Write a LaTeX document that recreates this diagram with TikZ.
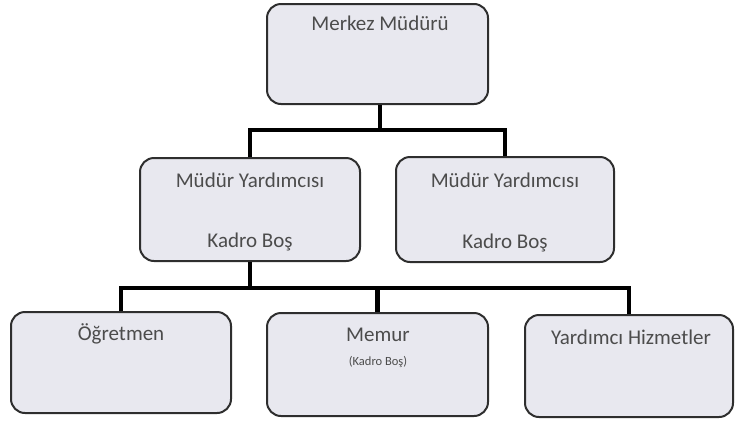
\documentclass[tikz,border=0pt]{standalone}
\usepackage{fontspec}
\setmainfont{Carlito}
\definecolor{boxfill}{HTML}{E8E8EF}
\definecolor{boxline}{HTML}{2E2E2E}
\definecolor{txt}{HTML}{4C4C4C}
\begin{document}
\begin{tikzpicture}[x=1pt,y=-1pt,
  orgbox/.style={draw=boxline, line width=2pt, fill=boxfill, rounded corners=14pt, inner sep=0pt},
  lbl/.style={text=txt, font=\fontsize{21}{24}\selectfont, inner sep=0pt},
  small/.style={text=txt, font=\fontsize{12.5}{14}\selectfont, inner sep=0pt},
  conn/.style={draw=black, line width=4.5pt}]
\useasboundingbox (0,0) rectangle (735,421);
% boxes
\node[orgbox, minimum width=221pt, minimum height=100pt] (top) at (377.5,54) {};
\node[orgbox, minimum width=220pt, minimum height=103pt] (ml) at (250,209.5) {};
\node[orgbox, minimum width=218pt, minimum height=105pt] (mr) at (505,209.5) {};
\node[orgbox, minimum width=220pt, minimum height=101pt] (bl) at (121,362.5) {};
\node[orgbox, minimum width=221pt, minimum height=103pt] (bm) at (377.5,364.5) {};
\node[orgbox, minimum width=208pt, minimum height=102pt] (br) at (629,366) {};
% texts
\node[lbl] (t1) at (380,23) {Merkez Müdürü};
\node[lbl] (t2) at (250,180) {Müdür Yardımcısı};
\node[lbl] (t3) at (250,242) {Kadro Boş};
\node[lbl] (t4) at (505,180) {Müdür Yardımcısı};
\node[lbl] (t5) at (505,243) {Kadro Boş};
\node[lbl] (t6) at (121,334) {Öğretmen};
\node[lbl] (t7) at (378,335) {Memur};
\node[small] (t8) at (378,362) {(Kadro Boş)};
\node[lbl] (t9) at (631,337) {Yardımcı Hizmetler};
% connectors
\coordinate (b1) at (380,130);
\coordinate (b2) at (250,288);
\draw[conn] (top.south -| b1) -- (b1);
\draw[conn] (ml.north) |- (b1) -| (mr.north);
\draw[conn] (ml.south) -- (b2);
\draw[conn] (bl.north) |- (b2) -| (br.north);
\draw[conn] (bm.north) -- (bm.north |- b2);
\end{tikzpicture}
\end{document}
